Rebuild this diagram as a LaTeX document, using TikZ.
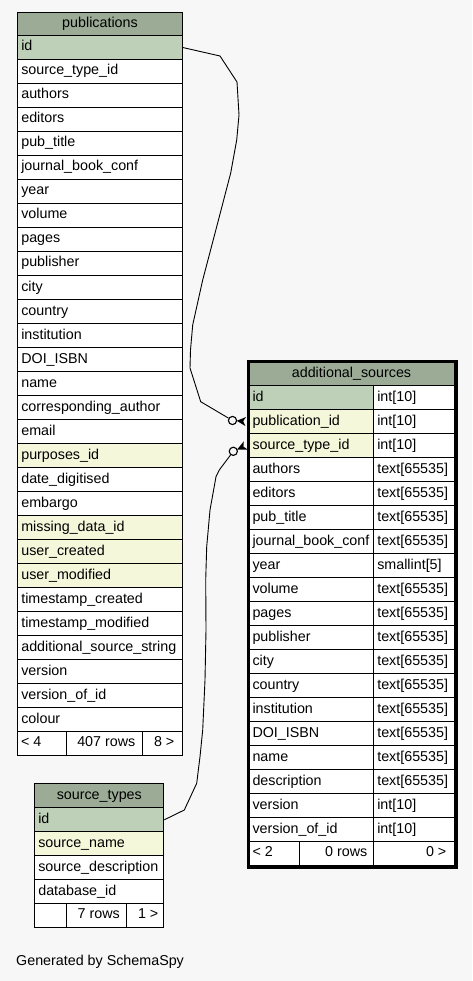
\documentclass[tikz,border=0pt]{standalone}
\usepackage{fontspec}
\setmainfont{Liberation Sans}
\usetikzlibrary{calc}
\definecolor{bgc}{HTML}{F7F7F7}
\definecolor{hdc}{HTML}{9BAB96}
\definecolor{pkc}{HTML}{BED1B8}
\definecolor{ixc}{HTML}{F4F7DA}
\begin{document}
\begin{tikzpicture}[x=1pt,y=-1pt,
  every node/.style={font=\fontsize{14.3}{16}\selectfont},
  cellbox/.style={draw=black, line width=1pt, anchor=north west, inner xsep=3.5pt, inner ysep=0pt,
    minimum height=24pt, text height=10pt, text depth=3pt, align=left},
  headbox/.style={draw=black, line width=1pt, fill=hdc, anchor=north west, inner sep=0pt,
    text height=10pt, text depth=3pt, align=center},
  footbox/.style={draw=black, line width=1pt, fill=white, anchor=north west, inner sep=0pt, minimum height=24pt},
  foottext/.style={inner sep=0pt, text height=10pt, text depth=3pt},
  conn/.style={draw=black, line width=0.9pt, line join=round},
  odot/.style={circle, draw=black, line width=1.1pt, fill=bgc, minimum size=8.2pt, inner sep=0pt},
]
\useasboundingbox (0,0) rectangle (472,981);
\fill[bgc] (0,0) rectangle (472,981);

% ---------------- publications ----------------
\node[headbox, minimum width=164.4pt, minimum height=23.3pt] (ph) at (17.3,11.7) {publications};
\foreach \t/\c [count=\i] in {id/pkc, source\_type\_id/white, authors/white, editors/white,
  pub\_title/white, journal\_book\_conf/white, year/white, volume/white, pages/white,
  publisher/white, city/white, country/white, institution/white, DOI\_ISBN/white,
  name/white, corresponding\_author/white, email/white, purposes\_id/ixc,
  date\_digitised/white, embargo/white, missing\_data\_id/ixc, user\_created/ixc,
  user\_modified/ixc, timestamp\_created/white, timestamp\_modified/white,
  additional\_source\_string/white, version/white, version\_of\_id/white, colour/white}
{
  \node[cellbox, fill=\c, text width=157.4pt] (p\i) at (17.3,{35+24*(\i-1)}) {\t};
}
\node[footbox, minimum width=48.4pt] (pf1) at (17.3,731) {};
\node[footbox, minimum width=76.6pt] (pf2) at (65.7,731) {};
\node[footbox, minimum width=39.4pt] (pf3) at (142.3,731) {};
\node[foottext, anchor=west] (pft1) at (20.8,743) {< 4};
\node[foottext, anchor=east] (pft2) at (135.5,743) {407 rows};
\node[foottext, anchor=east] (pft3) at (174.5,743) {8 >};

% ---------------- additional_sources ----------------
\node[headbox, minimum width=205pt, minimum height=24pt] (ah) at (248.5,361) {additional\_sources};
\foreach \n/\t/\c [count=\i] in {id/int[10]/pkc, publication\_id/int[10]/ixc,
  source\_type\_id/int[10]/ixc, authors/text[65535]/white, editors/text[65535]/white,
  pub\_title/text[65535]/white, journal\_book\_conf/text[65535]/white,
  year/smallint[5]/white, volume/text[65535]/white, pages/text[65535]/white,
  publisher/text[65535]/white, city/text[65535]/white, country/text[65535]/white,
  institution/text[65535]/white, DOI\_ISBN/text[65535]/white, name/text[65535]/white,
  description/text[65535]/white, version/int[10]/white, version\_of\_id/int[10]/white}
{
  \node[cellbox, fill=\c, text width=117.8pt] (a\i) at (248.5,{385+24*(\i-1)}) {\n};
  \node[cellbox, fill=white, text width=73.2pt] (b\i) at (373.3,{385+24*(\i-1)}) {\t};
}
\node[footbox, minimum width=50.8pt] (af1) at (248.5,841) {};
\node[footbox, minimum width=74pt] (af2) at (299.3,841) {};
\node[footbox, minimum width=80.2pt] (af3) at (373.3,841) {};
\node[foottext, anchor=west] (aft1) at (252.4,853) {< 2};
\node[foottext, anchor=east] (aft2) at (367.5,853) {0 rows};
\node[foottext, anchor=east] (aft3) at (446.5,853) {0 >};
\node[draw=black, line width=3pt, anchor=north west, inner sep=0pt,
  minimum width=207.6pt, minimum height=506.5pt] (aframe) at (247.2,359.8) {};

% ---------------- source_types ----------------
\node[headbox, minimum width=129pt, minimum height=24pt] (sh) at (34.3,783.3) {source\_types};
\foreach \t/\c [count=\i] in {id/pkc, source\_name/ixc, source\_description/white, database\_id/white}
{
  \node[cellbox, fill=\c, text width=122pt] (s\i) at (34.3,{807.3+24*(\i-1)}) {\t};
}
\node[footbox, minimum width=32pt] (sf1) at (34.3,903.3) {};
\node[footbox, minimum width=60pt] (sf2) at (66.3,903.3) {};
\node[footbox, minimum width=37pt] (sf3) at (126.3,903.3) {};
\node[foottext, anchor=east] (sft2) at (120,915.3) {7 rows};
\node[foottext, anchor=east] (sft3) at (158.5,915.3) {1 >};

% ---------------- connectors ----------------
\node[odot] (o1) at (232.5,420.5) {};
\node[odot] (o2) at (233.3,451.3) {};
\coordinate (t1) at ([xshift=-2.8pt]a2.west);
\coordinate (t2) at ([xshift=-2.8pt]a3.west);

\draw[conn] (p1.east) -- (220,56) -- (237,82) -- (239,115) -- (236.7,140) -- (230.7,173)
  -- (216.7,226.7) -- (202.7,280) -- (192.7,325) -- (190.5,350) -- (190,368)
  -- (200.7,401.7) -- (o1);
\fill ($(o1)!4.2pt!(t1)$) -- ($(t1)!4.5pt!90:(o1)$) -- ($(t1)!2.5pt!(o1)$)
  -- ($(t1)!4.5pt!-90:(o1)$) -- cycle;

\draw[conn] (s1.east) -- (184.3,810) -- (196.7,783.3) -- (200,756.7) -- (202.7,730)
  -- (205,680) -- (206,630) -- (205.7,580) -- (206.7,546.7) -- (210,510)
  -- (216,476.7) -- (219.3,470) -- (o2);
\fill ($(o2)!4.2pt!(t2)$) -- ($(t2)!4.5pt!90:(o2)$) -- ($(t2)!2.5pt!(o2)$)
  -- ($(t2)!4.5pt!-90:(o2)$) -- cycle;

\node[anchor=base west, inner sep=0pt] (gen) at (16,965.5) {Generated by SchemaSpy};
\end{tikzpicture}
\end{document}
